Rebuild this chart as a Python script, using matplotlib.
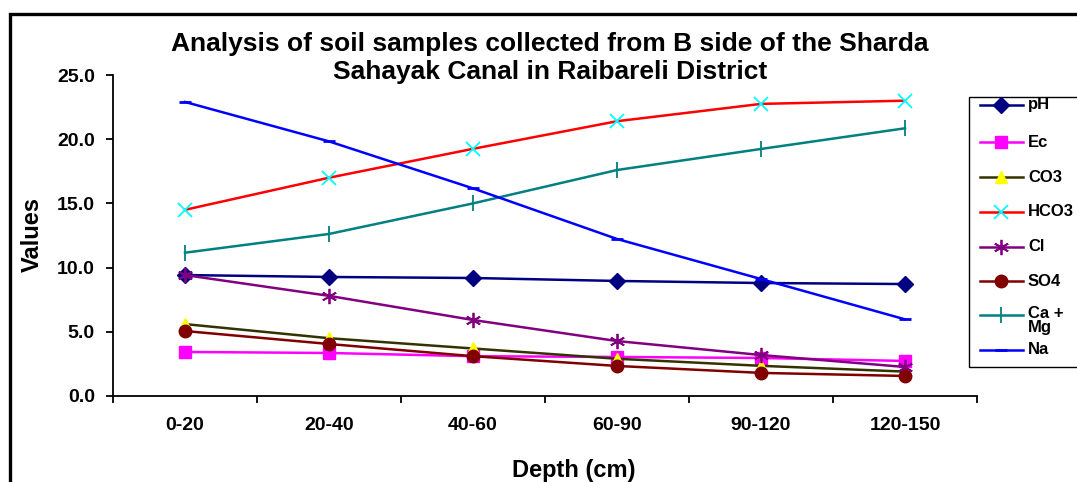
import matplotlib.pyplot as plt
from matplotlib.patches import Rectangle
from matplotlib.lines import Line2D

plt.rcParams['font.family'] = ['Liberation Sans', 'DejaVu Sans']
plt.rcParams['font.weight'] = 'bold'

depth = ['0-20', '20-40', '40-60', '60-90', '90-120', '120-150']
ph = [9.42, 9.27, 9.19, 8.96, 8.80, 8.72]
ec = [3.43, 3.35, 3.10, 3.04, 2.96, 2.73]
co3 = [5.6, 4.5, 3.7, 2.9, 2.35, 1.9]
hco3 = [14.5, 17.0, 19.25, 21.4, 22.75, 23.0]
cl = [9.42, 7.8, 5.92, 4.28, 3.19, 2.26]
so4 = [5.06, 4.05, 3.1, 2.34, 1.8, 1.56]
ca_mg = [11.16, 12.62, 15.0, 17.6, 19.24, 20.85]
na = [22.9, 19.83, 16.17, 12.23, 9.11, 5.97]
labels = ['pH', 'Ec', 'CO3', 'HCO3', 'Cl', 'SO4', 'Ca +\nMg', 'Na']

W, H = 1077, 482


def px(x, y):
    return x / W, 1 - y / H


fig = plt.figure(figsize=(W / 100, H / 100), dpi=100)
ax = fig.add_axes([113 / W, 1 - 396 / H, (977 - 113) / W, (396 - 75) / H])

x = range(len(depth))
lw = 1.8
styles = [
    dict(color='#000080', marker='D', ms=8),
    dict(color='#FF00FF', marker='s', ms=8),
    dict(color='#333300', marker='^', ms=9, mfc='#FFFF00', mec='#FFFF00'),
    dict(color='#FF0000', marker='x', ms=10, mec='#00FFFF', mew=1.3),
    dict(color='#800080', marker=(6, 2, 0), ms=11, mew=1.3),
    dict(color='#800000', marker='o', ms=9),
    dict(color='#008080', marker='|', ms=11, mew=1.3),
    dict(color='#0000FF', marker='_', ms=8, mew=2),
]
series = [ph, ec, co3, hco3, cl, so4, ca_mg, na]
for vals, st in zip(series, styles):
    ax.plot(x, vals, lw=lw, **st)

ax.set_xlim(-0.5, 5.5)
ax.set_ylim(0, 25)
yt = [0, 5, 10, 15, 20, 25]
ax.set_yticks(yt)
ax.set_yticklabels(['%.1f' % v for v in yt], fontsize=14, fontweight='bold')
ax.set_xticks([i - 0.5 for i in range(7)])
ax.set_xticklabels([])
ax.set_xticks(list(x), minor=True)
ax.set_xticklabels(depth, minor=True, fontsize=14, fontweight='bold')
ax.tick_params(axis='x', which='minor', length=0, pad=15)
ax.tick_params(axis='both', which='major', direction='out', length=5, width=1.3)
ax.tick_params(axis='y', pad=8)
for s in ['top', 'right']:
    ax.spines[s].set_visible(False)
for s in ['left', 'bottom']:
    ax.spines[s].set_linewidth(1.3)

fig.text(*px(574, 470), 'Depth (cm)', ha='center', va='center', fontsize=17, fontweight='bold')
fig.text(*px(32, 234), 'Values', ha='center', va='center', rotation=90, fontsize=17, fontweight='bold')
fig.text(*px(550, 58), 'Analysis of soil samples collected from B side of the Sharda\nSahayak Canal in Raibareli District',
         ha='center', va='center', fontsize=19, fontweight='bold', linespacing=1.22)

# legend drawn by hand so the "Ca + / Mg" entry overlaps like the original
fig.add_artist(Rectangle(px(969, 367), 200 / W, (367 - 97) / H, transform=fig.transFigure,
                         fill=False, edgecolor='black', lw=1.0))
leg_y = [105, 142, 177, 212, 247, 281, 315, 350]
for lab, st, yy in zip(labels, styles, leg_y):
    fig.add_artist(Line2D([980 / W, 1023 / W], [1 - yy / H] * 2, lw=lw, transform=fig.transFigure, **{k: v for k, v in st.items() if k not in ('marker', 'ms', 'mfc', 'mec', 'mew')}))
    fig.add_artist(Line2D([1001 / W], [1 - yy / H], lw=0, transform=fig.transFigure, **st))
    if '\n' in lab:
        fig.text(*px(1028, yy - 9), lab, ha='left', va='top', fontsize=12, fontweight='bold', linespacing=0.95)
    else:
        fig.text(*px(1028, yy), lab, ha='left', va='center', fontsize=12, fontweight='bold')

fig.add_artist(Rectangle((10 / W, -0.2), 1.5, 1.2 - 14 / H, transform=fig.transFigure,
                         fill=False, edgecolor='black', lw=2.4, clip_on=False))

fig.savefig('out.png', dpi=100)
